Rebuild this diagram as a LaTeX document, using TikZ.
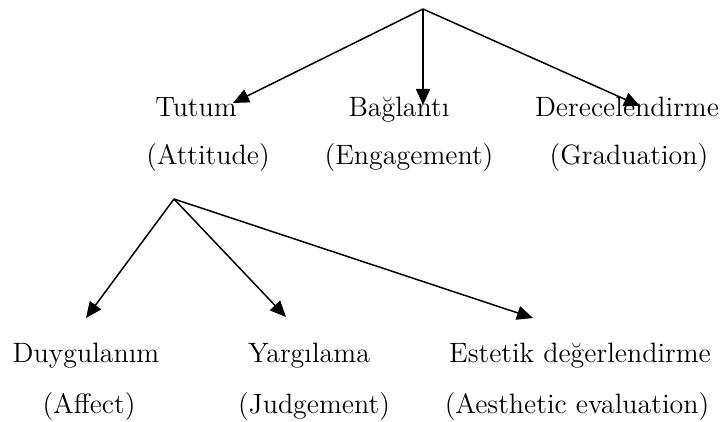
\documentclass[tikz,border=0pt]{standalone}
\usepackage{fontspec}
\usetikzlibrary{arrows.meta}

\begin{document}
\begin{tikzpicture}[x=0.5pt, y=0.5pt,
    lbl/.style={anchor=base, inner sep=0pt, font=\fontsize{14}{16}\selectfont},
    arr/.style={-{Triangle[length=8pt, width=7pt]}, line width=0.75pt}]
  \useasboundingbox (0,0) rectangle (723,-422);
  % top level
  \coordinate (root) at (423,-9);
  \node[lbl] (tutum)  at (196,-117) {Tutum};
  \node[lbl] (att)    at (208,-165) {(Attitude)};
  \node[lbl] (bag)    at (399,-117) {Bağlantı};
  \node[lbl] (eng)    at (409,-165) {(Engagement)};
  \node[lbl] (der)    at (627,-117) {Derecelendirme};
  \node[lbl] (grad)   at (629,-165) {(Graduation)};
  \coordinate (tutumtip) at (233,-103);
  \coordinate (bagtip)   at (423,-105);
  \coordinate (dertip)   at (640,-106);
  \draw[arr] (root) -- (tutumtip);
  \draw[arr] (root) -- (bagtip);
  \draw[arr] (root) -- (dertip);
  % attitude subtypes
  \coordinate (attroot) at (174,-199);
  \node[lbl] (duy)    at (86,-363)  {Duygulanım};
  \node[lbl] (aff)    at (89,-413)  {(Affect)};
  \node[lbl] (yarg)   at (309,-363) {Yargılama};
  \node[lbl] (judg)   at (314,-413) {(Judgement)};
  \node[lbl] (est)    at (580,-363) {Estetik değerlendirme};
  \node[lbl] (aes)    at (577,-413) {(Aesthetic evaluation)};
  \coordinate (duytip)  at (86,-318);
  \coordinate (yargtip) at (286,-317);
  \coordinate (esttip)  at (533,-318);
  \draw[arr] (attroot) -- (duytip);
  \draw[arr] (attroot) -- (yargtip);
  \draw[arr] (attroot) -- (esttip);
\end{tikzpicture}
\end{document}
